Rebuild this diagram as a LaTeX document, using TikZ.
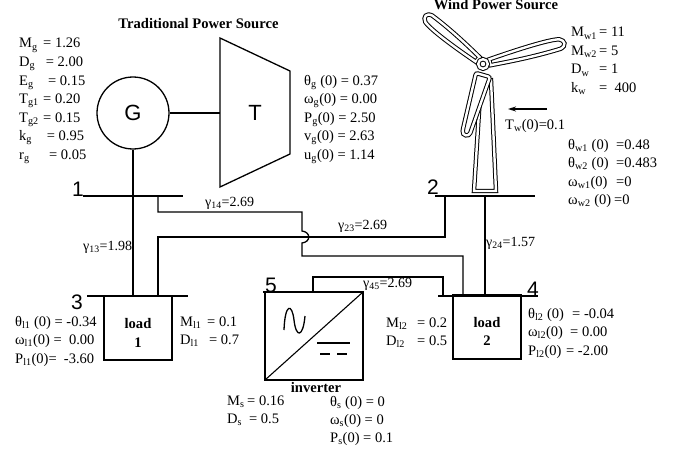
\documentclass[tikz,border=0pt]{standalone}
\usepackage{fontspec}
\setmainfont{Liberation Serif}
\newfontfamily\arialf{Liberation Sans}
\usetikzlibrary{arrows.meta}
\newcommand\mysub[1]{\textsubscript{#1}}
\newcommand\eqat[2]{\makebox[#1][l]{#2}}
\newcommand\bladepath[1]{(7,-3) .. controls ({0.4*#1},-5.5) and ({#1-14},-8) .. ({#1-4},-5.5) .. controls ({#1+1.5},-3) and ({#1+1.5},2.5) .. ({#1-5},4) .. controls ({0.6*#1},5.5) and ({0.3*#1},4) .. (7,3) -- cycle}
\begin{document}
\begin{tikzpicture}[x=1pt,y=-1pt,
 wire/.style={line width=1.3pt},
 bus/.style={line width=1.5pt},
 txt/.style={anchor=base west,inner sep=0pt,font=\fontsize{14.5}{17}\selectfont},
 gam/.style={anchor=base west,inner sep=0pt,font=\fontsize{14}{16}\selectfont},
 ttl/.style={anchor=base,inner sep=0pt,font=\fontsize{14.6}{17}\selectfont\bfseries},
 num/.style={anchor=base,inner sep=0pt,font=\arialf\fontsize{21}{24}\selectfont},
 dbl/.style={draw,line width=1pt,double=white,double distance=2.4pt,fill=white},
 box/.style={draw,line width=1.3pt,inner sep=0pt,outer sep=0pt,anchor=north west}]

\useasboundingbox (0,0) rectangle (683,452);

% titles
\node[ttl] (t1) at (198.5,29) {Traditional Power Source};
\node[ttl] (t2) at (496,10) {Wind Power Source};

% generator and turbine
\node[draw,circle,line width=1.3pt,minimum size=72pt,inner sep=0pt,font=\arialf\fontsize{22}{24}\selectfont] (G) at (133,113) {G};
\draw[line width=1.3pt] (220,38) -- (290,71) -- (290,154) -- (220,187) -- cycle;
\node[font=\arialf\fontsize{22}{24}\selectfont] (T) at (255,113) {T};
\coordinate (Tin) at (220,113);
\draw[wire] (G.east) -- (Tin);

% buses
\coordinate (B1a) at (83,196); \coordinate (B1b) at (183,196);
\coordinate (B2a) at (435,196); \coordinate (B2b) at (535,196);
\coordinate (B3a) at (87,296); \coordinate (B3b) at (188,296);
\coordinate (B4a) at (438,296); \coordinate (B4b) at (538,296);
\coordinate (B5a) at (263,292); \coordinate (B5b) at (364,292);

% boxes
\node[box,minimum width=68pt,minimum height=64pt] (L1) at (104,296) {};
\node[box,minimum width=68pt,minimum height=64pt] (L2) at (453,295) {};
\node[box,minimum width=98pt,minimum height=88pt] (INV) at (265,292) {};
\draw[line width=1.1pt] (INV.south west) -- (INV.north east);

\draw[bus] (B1a) -- (B1b);
\draw[bus] (B2a) -- (B2b);
\draw[bus] (B3a) -- (B3b);
\draw[bus] (B4a) -- (B4b);
\draw[bus] (B5a) -- (B5b);

% wires
\coordinate (p14a) at (158,196); \coordinate (p14b) at (463,296);
\coordinate (p23a) at (158,296); \coordinate (p23b) at (445,196);
\coordinate (p24a) at (485,196); \coordinate (p24b) at (485,296);
\coordinate (p45a) at (313,292); \coordinate (p45b) at (443,296);
\draw[wire] (G.south) -- (G.south |- B3a);
\draw[wire] (p14a) -- (158,212) -- (302,212) -- (302,231) .. controls (311,232) and (311,242) .. (302,243) -- (302,256) -- (463,256) -- (p14b);
\draw[wire] (p23a) -- (158,237) -- (445,237) -- (p23b);
\draw[wire] (p24a) -- (p24b);
\draw[wire] (p45a) -- (313,277) -- (443,277) -- (p45b);

% inverter symbols
\draw[line width=1.3pt] (284,330) .. controls (285,303) and (292,303) .. (294,320) .. controls (296,338) and (303,338) .. (305,316);
\draw[line width=1.4pt] (317,343) -- (350,343);
\draw[line width=1.4pt] (320,354) -- (330,354);
\draw[line width=1.4pt] (337,354) -- (347,354);

% wind turbine
\draw[dbl] (474,191) -- (481,80) -- (491,80) -- (496,191) -- cycle;
\draw[dbl,rounded corners=2pt] (476,73) -- (490,77) -- (471,131) .. controls (469,137) and (462,136) .. (463,129) -- cycle;
\begin{scope}[shift={(483,64)},rotate=139.6]
\draw[dbl] \bladepath{75};
\end{scope}
\begin{scope}[shift={(483,64)},rotate=14]
\draw[dbl] \bladepath{84};
\end{scope}
\draw[dbl] (483,64) circle[radius=4.8];
\coordinate (arrS) at (547,109); \coordinate (arrE) at (508,109);
\draw[line width=1.3pt,-{Stealth[length=8pt,width=5pt]}] (arrS) -- (arrE);

% bus numbers
\node[num] (n1) at (78,196) {1};
\node[num] (n2) at (433,194) {2};
\node[num] (n3) at (77,309) {3};
\node[num] (n4) at (533,296) {4};
\node[num] (n5) at (271,292) {5};

% load labels
\node[ttl] (l1a) at (138,328) {load};
\node[ttl] (l1b) at (138,347) {1};
\node[ttl] (l2a) at (487,327) {load};
\node[ttl] (l2b) at (487,345) {2};
\node[ttl] (inv) at (316,392.5) {inverter};

% gamma labels
\node[gam] (g14) at (205,206) {γ\mysub{14}=2.69};
\node[gam] (g13) at (83,250) {γ\mysub{13}=1.98};
\node[gam] (g23) at (338,229) {γ\mysub{23}=2.69};
\node[gam] (g24) at (486,246) {γ\mysub{24}=1.57};
\node[gam] (g45) at (363,287) {γ\mysub{45}=2.69};

% generator parameters
\node[txt] (a1) at (19,48) {\eqat{24pt}{M\mysub{g}}= 1.26};
\node[txt] (a2) at (19,66.5) {\eqat{26.7pt}{D\mysub{g}}= 2.00};
\node[txt] (a3) at (19,85) {\eqat{29pt}{E\mysub{g}}= 0.15};
\node[txt] (a4) at (19,103.5) {\eqat{24pt}{T\mysub{g1}}= 0.20};
\node[txt] (a5) at (19,122) {\eqat{24pt}{T\mysub{g2}}= 0.15};
\node[txt] (a6) at (19,140.5) {\eqat{27.7pt}{k\mysub{g}}= 0.95};
\node[txt] (a7) at (19,159) {\eqat{30pt}{r\mysub{g}}= 0.05};

% turbine initial values
\node[txt] (b1) at (304,85) {θ\mysub{g} (0) = 0.37};
\node[txt] (b2) at (304,103.5) {ω\mysub{g}(0) = 0.00};
\node[txt] (b3) at (304,122) {P\mysub{g}(0) = 2.50};
\node[txt] (b4) at (304,140.5) {v\mysub{g}(0) = 2.63};
\node[txt] (b5) at (304,159) {u\mysub{g}(0) = 1.14};

% wind parameters
\node[txt] (c1) at (571,37) {\eqat{28pt}{M\mysub{w1}}= 11};
\node[txt] (c2) at (571,55.5) {\eqat{28pt}{M\mysub{w2}}= 5};
\node[txt] (c3) at (571,74) {\eqat{28pt}{D\mysub{w}}= 1};
\node[txt] (c4) at (571,92.5) {\eqat{28pt}{k\mysub{w}}=\ \ 400};
\node[txt] (tw) at (505,129) {T\mysub{w}(0)=0.1};

\node[txt] (d1) at (568,149) {\eqat{48pt}{θ\mysub{w1} (0)}=0.48};
\node[txt] (d2) at (568,167.5) {\eqat{48pt}{θ\mysub{w2} (0)}=0.483};
\node[txt] (d3) at (568,186) {\eqat{48pt}{ω\mysub{w1}(0)}=0};
\node[txt] (d4) at (568,204.5) {\eqat{46pt}{ω\mysub{w2} (0)}=0};

% load 1
\node[txt] (e1) at (15,326) {θ\mysub{l1} (0) = -0.34};
\node[txt] (e2) at (15,344.5) {ω\mysub{l1}(0) =\ \ 0.00};
\node[txt] (e3) at (15,363) {P\mysub{l1}(0)=\ \ -3.60};
\node[txt] (f1) at (180,326) {\eqat{27pt}{M\mysub{l1}}= 0.1};
\node[txt] (f2) at (180,344.5) {\eqat{29pt}{D\mysub{l1}}= 0.7};

% load 2
\node[txt] (h1) at (386,327) {\eqat{31pt}{M\mysub{l2}}= 0.2};
\node[txt] (h2) at (386,345.5) {\eqat{31pt}{D\mysub{l2}}= 0.5};
\node[txt] (k1) at (528,318) {\eqat{44pt}{θ\mysub{l2} (0)}= -0.04};
\node[txt] (k2) at (528,336.5) {\eqat{42pt}{ω\mysub{l2}(0)}= 0.00};
\node[txt] (k3) at (528,355) {\eqat{38pt}{P\mysub{l2}(0)}= -2.00};

% inverter
\node[txt] (m1) at (227,405) {\eqat{20pt}{M\mysub{s}}= 0.16};
\node[txt] (m2) at (227,423.5) {\eqat{22pt}{D\mysub{s}}= 0.5};
\node[txt] (s1) at (330,406) {θ\mysub{s} (0) = 0};
\node[txt] (s2) at (330,424) {ω\mysub{s}(0) = 0};
\node[txt] (s3) at (330,442) {P\mysub{s}(0) = 0.1};
\end{tikzpicture}
\end{document}
